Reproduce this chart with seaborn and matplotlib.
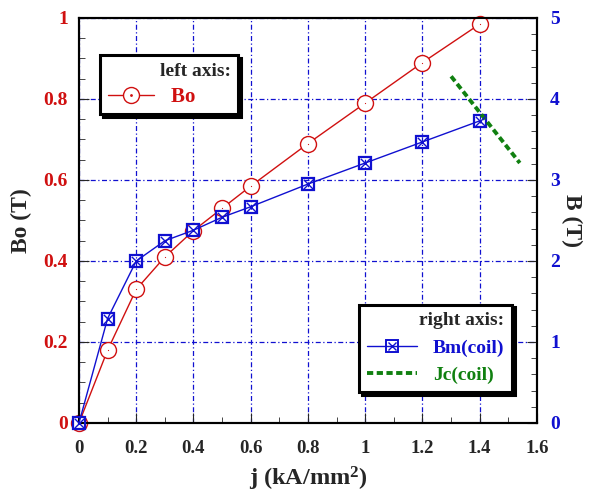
import matplotlib
matplotlib.use('Agg')
import matplotlib.pyplot as plt
import matplotlib.ticker as mticker
from matplotlib.lines import Line2D
import seaborn as sns
import pandas as pd

# данные
j = [0, 0.1, 0.2, 0.3, 0.4, 0.5, 0.6, 0.8, 1.0, 1.2, 1.4]
bo = [0, 0.18, 0.33, 0.41, 0.475, 0.53, 0.585, 0.69, 0.79, 0.89, 0.985]
bm = [0, 1.29, 2.0, 2.25, 2.38, 2.54, 2.67, 2.95, 3.21, 3.47, 3.73]
jc_x = [1.30, 1.54]
jc_y = [4.28, 3.21]

red = '#d01010'
blue = '#1010d0'
green = '#108010'

sns.set_style('ticks')
plt.rcParams['font.family'] = ['Liberation Serif', 'DejaVu Serif']
plt.rcParams['font.weight'] = 'bold'
plt.rcParams['mathtext.fontset'] = 'custom'
plt.rcParams['mathtext.rm'] = 'Liberation Serif:bold'
plt.rcParams['mathtext.it'] = 'Liberation Serif:bold'
plt.rcParams['mathtext.bf'] = 'Liberation Serif:bold'

df = pd.DataFrame({'j': j, 'Bo': bo, 'Bm': bm})
df_jc = pd.DataFrame({'j': jc_x, 'Jc': jc_y})

fig = plt.figure(figsize=(5.89, 4.93), dpi=100)
ax = fig.add_axes([0.1341, 0.142, 0.7776, 0.8215])
ax2 = ax.twinx()

# Bo на левой оси
sns.lineplot(data=df, x='j', y='Bo', ax=ax, color=red, lw=1, marker='o', ms=11.5,
             mfc='white', mec=red, mew=1, zorder=3, clip_on=False)
sns.scatterplot(data=df, x='j', y='Bo', ax=ax, color=red, marker='.', s=3,
                linewidth=0, zorder=4, clip_on=False)

# Bm и Jc на правой оси
jc_style = (0, (1.6, 0.9))
sns.lineplot(data=df, x='j', y='Bm', ax=ax2, color=blue, lw=1, marker='s', ms=9,
             mfc='none', mec=blue, mew=1.6, zorder=3, clip_on=False)
sns.scatterplot(data=df, x='j', y='Bm', ax=ax2, color=blue, marker='x', s=45,
                linewidth=1, zorder=4, clip_on=False)
sns.lineplot(data=df_jc, x='j', y='Jc', ax=ax2, color=green, lw=2.8,
             linestyle=jc_style, zorder=3)

ax.set_xlim(0, 1.6)
ax.set_ylim(0, 1)
ax2.set_ylim(0, 5)
ax.xaxis.set_major_locator(mticker.MultipleLocator(0.2))
ax.xaxis.set_minor_locator(mticker.MultipleLocator(0.1))
ax.yaxis.set_major_locator(mticker.MultipleLocator(0.2))
ax.yaxis.set_minor_locator(mticker.MultipleLocator(0.05))
ax2.yaxis.set_major_locator(mticker.MultipleLocator(1))
ax2.yaxis.set_minor_locator(mticker.MultipleLocator(0.2))
fmt = mticker.FuncFormatter(lambda v, p: ('%g' % round(v, 2)))
ax.xaxis.set_major_formatter(fmt)
ax.yaxis.set_major_formatter(fmt)
ax2.yaxis.set_major_formatter(fmt)

ax.tick_params(axis='x', which='both', direction='in', top=False, labelsize=13.5, pad=12)
ax.tick_params(axis='x', which='major', length=7)
ax.tick_params(axis='x', which='minor', length=4)
ax.tick_params(axis='y', which='both', direction='in', labelsize=14, labelcolor=red, pad=8)
ax.tick_params(axis='y', which='major', length=7)
ax.tick_params(axis='y', which='minor', length=4)
ax2.tick_params(axis='y', which='both', direction='in', labelsize=14, labelcolor=blue, pad=9.5)
ax2.tick_params(axis='y', which='major', length=7)
ax2.tick_params(axis='y', which='minor', length=4)

ax.grid(True, which='major', color=blue, ls=(0, (4, 2, 1, 2)), lw=0.9)
for a in (ax, ax2):
    for s in a.spines.values():
        s.set_linewidth(1.5)
        s.set_color('black')

ax.set_xlabel('j (kA/mm$^2$)', fontsize=17.5, fontweight='bold', labelpad=6)
ax.set_ylabel('Bo (T)', fontsize=17, fontweight='bold', labelpad=8)
ax2.set_ylabel('B (T)', fontsize=17, fontweight='bold', rotation=270, labelpad=16)

# легенды
common = dict(fancybox=False, shadow={'color': 'black', 'alpha': 1}, edgecolor='black',
              framealpha=1, alignment='right', handletextpad=0.8, borderaxespad=0,
              title_fontproperties={'size': 14, 'weight': 'bold'})

h_bo = Line2D([], [], color=red, lw=1, marker='o', ms=11.5, mfc='white', mec=red)
h_bo_dot = Line2D([], [], ls='none', marker='.', ms=2, color=red)
leg1 = ax2.legend([(h_bo, h_bo_dot)], ['Bo\u2003\u2002\u2009'], title='left axis:', loc='upper left',
                  bbox_to_anchor=(0.0459, 0.9086), prop={'size': 15, 'weight': 'bold'},
                  labelcolor=[red], handlelength=2.25, borderpad=0.36, labelspacing=0.35,
                  **common)
leg1.get_frame().set_linewidth(2.2)
ax2.add_artist(leg1)

h_bm = Line2D([], [], color=blue, lw=1, marker='s', ms=8, mfc='none', mec=blue, mew=1.4)
h_bm_x = Line2D([], [], ls='none', marker='x', ms=6, color=blue, mew=1)
h_jc = Line2D([], [], color=green, lw=2.8, linestyle=jc_style)
leg2 = ax2.legend([(h_bm, h_bm_x), h_jc], ['Bm(coil)', 'Jc(coil)'], title='right axis:',
                  loc='lower right', bbox_to_anchor=(0.9454, 0.0765),
                  prop={'size': 14, 'weight': 'bold'}, labelcolor=[blue, green],
                  handlelength=2.6, borderpad=0.4, labelspacing=0.5, **common)
leg2.get_frame().set_linewidth(2.2)

fig.savefig('out.png', dpi=100)
